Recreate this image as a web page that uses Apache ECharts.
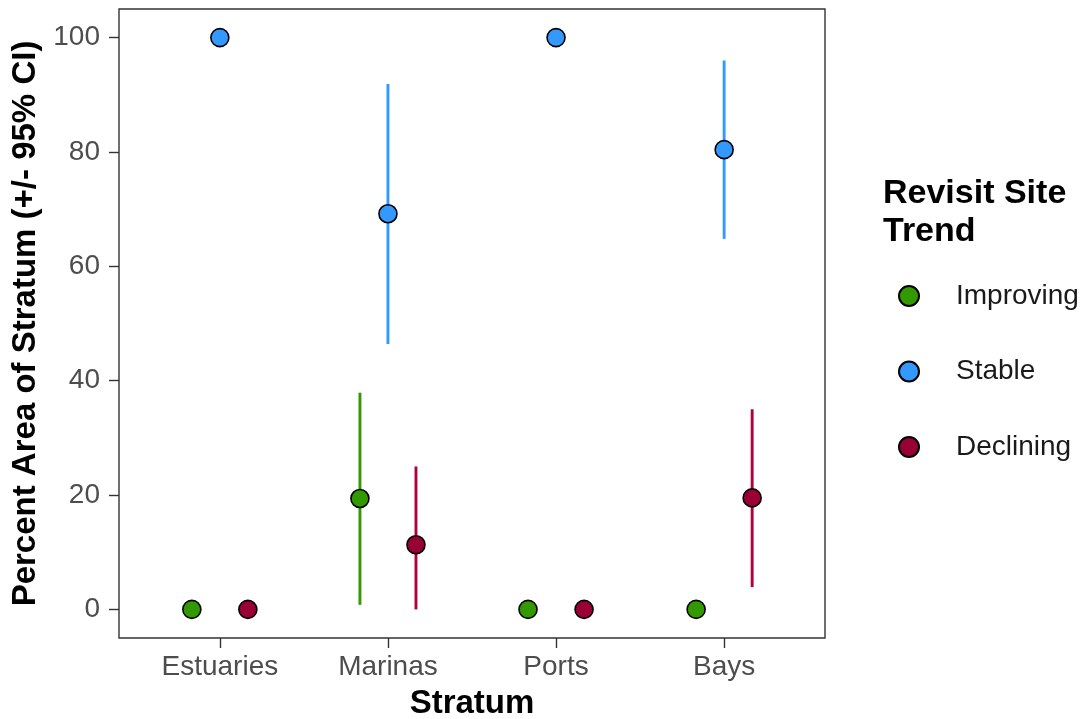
<!DOCTYPE html>
<html>
<head>
<meta charset="utf-8">
<script src="https://cdn.jsdelivr.net/npm/echarts@6/dist/echarts.min.js"></script>
<style>
  html, body { margin: 0; padding: 0; background: #fff; }
  #chart { width: 1087px; height: 719px; }
</style>
</head>
<body>
<div id="chart"></div>
<script>
const categories = ['Estuaries', 'Marinas', 'Ports', 'Bays']
const trends = ['Improving', 'Stable', 'Declining']
const yTicks = [0, 20, 40, 60, 80, 100]

// estimate and 95% CI per stratum (null = no interval drawn)
const improvingEst = [0, 19.4, 0, 0]
const improvingLo = [null, 0.8, null, null]
const improvingHi = [null, 37.9, null, null]

const stableEst = [100, 69.2, 100, 80.4]
const stableLo = [null, 46.4, null, 64.8]
const stableHi = [null, 91.9, null, 96.0]

const decliningEst = [0, 11.3, 0, 19.5]
const decliningLo = [null, 0, null, 3.9]
const decliningHi = [null, 25.0, null, 35.0]

const colors = ['#339900', '#3399FF', '#990033']
const barColors = ['#339900', '#3399FF', '#B0003F']
const dodgeWidth = 0.5

const estimates = [improvingEst, stableEst, decliningEst]
const lows = [improvingLo, stableLo, decliningLo]
const highs = [improvingHi, stableHi, decliningHi]

const font = '"Liberation Sans", Arial, sans-serif'

const xOf = (catIdx, trendIdx) =>
  catIdx + 1 + (trendIdx - (trends.length - 1) / 2) * dodgeWidth / trends.length

const series = []

trends.forEach((name, t) => {
  const ci = []
  categories.forEach((c, i) => {
    if (lows[t][i] != null) ci.push([xOf(i, t), lows[t][i], highs[t][i]])
  })
  series.push({
    name: name + ' CI',
    type: 'custom',
    z: 1,
    silent: true,
    encode: { x: 0, y: [1, 2] },
    data: ci,
    renderItem: (params, api) => {
      const p1 = api.coord([api.value(0), api.value(1)])
      const p2 = api.coord([api.value(0), api.value(2)])
      return {
        type: 'line',
        shape: { x1: p1[0], y1: p1[1], x2: p2[0], y2: p2[1] },
        style: { stroke: barColors[t], lineWidth: 2.9 }
      }
    }
  })
})

trends.forEach((name, t) => {
  series.push({
    name: name,
    type: 'scatter',
    z: 3,
    symbol: 'circle',
    symbolSize: 18,
    itemStyle: { color: colors[t], borderColor: '#000', borderWidth: 1.6, opacity: 1 },
    data: categories.map((c, i) => [xOf(i, t), estimates[t][i]])
  })
})

const chart = echarts.init(document.getElementById('chart'))
chart.setOption({
  animation: false,
  backgroundColor: '#fff',
  textStyle: { fontFamily: font },
  grid: {
    left: 119, right: 262, top: 9, bottom: 81,
    outerBoundsMode: 'none',
    show: true, borderColor: '#333', borderWidth: 1.4, backgroundColor: 'transparent'
  },
  title: {
    text: 'Revisit Site\nTrend',
    left: 883, top: 175, padding: 0,
    textStyle: { fontFamily: font, fontSize: 34, fontWeight: 'bold', color: '#000', lineHeight: 38 }
  },
  legend: {
    orient: 'vertical',
    left: 898, top: 282,
    padding: 0,
    itemWidth: 20, itemHeight: 20,
    itemGap: 47.5,
    icon: 'circle',
    data: trends,
    textStyle: { fontFamily: font, fontSize: 28, lineHeight: 28, color: '#1a1a1a', padding: [0, 0, 0, 32] }
  },
  xAxis: {
    type: 'value',
    min: 0.4, max: 4.6,
    name: 'Stratum',
    nameLocation: 'middle',
    nameGap: 49,
    nameTextStyle: { fontFamily: font, fontSize: 33, fontWeight: 'bold', color: '#000' },
    axisLine: { show: false, onZero: false },
    splitLine: { show: false },
    axisTick: { show: true, length: 10, lineStyle: { color: '#333', width: 1.4 }, customValues: [1, 2, 3, 4] },
    axisLabel: {
      customValues: [1, 2, 3, 4],
      margin: 15,
      fontFamily: font, fontSize: 28, color: '#4D4D4D',
      formatter: v => categories[Math.round(v) - 1] || ''
    }
  },
  yAxis: {
    type: 'value',
    min: -5, max: 105,
    name: 'Percent Area of Stratum (+/- 95% CI)',
    nameLocation: 'middle',
    nameGap: 73,
    nameTextStyle: { fontFamily: font, fontSize: 33, fontWeight: 'bold', color: '#000' },
    axisLine: { show: false, onZero: false },
    splitLine: { show: false },
    axisTick: { show: true, length: 10, lineStyle: { color: '#333', width: 1.4 }, customValues: yTicks },
    axisLabel: {
      customValues: yTicks,
      margin: 19,
      fontFamily: font, fontSize: 28, color: '#4D4D4D'
    }
  },
  series: series
})
</script>
</body>
</html>
